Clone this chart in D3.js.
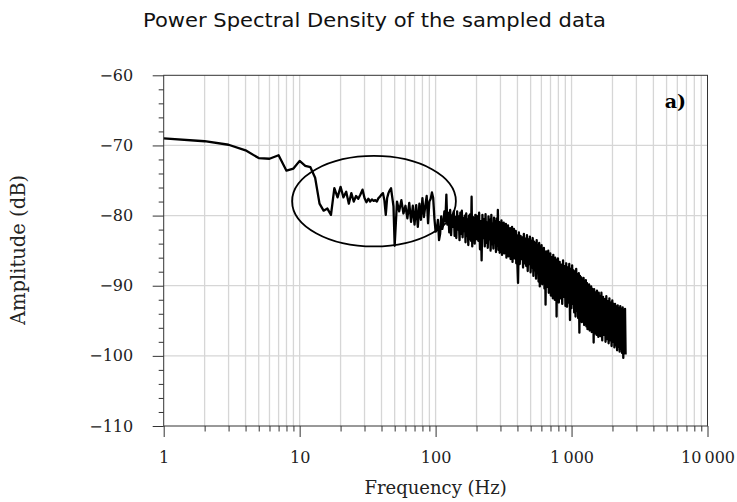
<!DOCTYPE html>
<html>
<head>
<meta charset="utf-8">
<script src="https://cdn.jsdelivr.net/npm/d3@7"></script>
<style>
  html, body { margin: 0; padding: 0; background: #fff; }
  svg { display: block; }
</style>
</head>
<body>
<svg id="chart" width="737" height="502"></svg>
<script>
// ---------------- DATA ----------------
// PSD bins: each block starts at a frequency (Hz) with a fixed bin step (Hz)
const blockStartHz = [1, 52, 102, 203, 404, 806, 1610];
const blockStepHz  = [1, 2, 2, 3, 6, 12, 24];

// Amplitude (dB), one array per block
const dbBlockA = [-69.0,-69.4,-69.9,-70.7,-71.8,-71.9,-71.4,-73.6,-73.3,-72.2,
  -72.9,-73.1,-74.6,-78.3,-79.3,-79.0,-79.9,-76.1,-77.4,-75.9,
  -77.4,-76.6,-78.3,-76.8,-78.0,-77.2,-77.6,-77.0,-76.3,-77.5,
  -78.1,-77.6,-78.0,-77.7,-77.9,-77.8,-78.0,-77.5,-77.3,-77.0,
  -76.8,-77.8,-79.9,-77.5,-76.8,-76.4,-76.1,-77.4,-78.7,-84.3];
const dbBlockB = [-78.0,-79.4,-77.8,-79.7,-78.6,-80.4,-78.2,-80.9,-78.6,-81.3,
  -78.5,-81.6,-78.3,-80.6,-77.5,-80.2,-78.6,-77.2,-81.1,-78.0,
  -77.6,-76.7,-77.5,-80.4,-82.3];
const dbBlockC = [-82.0,-80.6,-83.5,-82.6,-80.1,-81.9,-81.2,-79.4,-80.8,-77.0,
  -81.3,-79.6,-82.4,-79.2,-82.8,-80.0,-81.6,-79.4,-82.9,-80.2,
  -83.2,-79.4,-82.0,-80.1,-83.5,-79.6,-82.6,-79.3,-83.1,-80.4,
  -82.2,-80.0,-83.8,-79.7,-82.9,-80.6,-84.2,-80.0,-83.3,-79.8,
  -83.6,-77.3,-84.4,-80.2,-82.8,-80.4,-84.0,-79.9,-83.4,-80.0];
const dbBlockD = [-80.2,-83.6,-79.6,-84.8,-80.8,-86.4,-79.9,-83.2,-80.5,-84.4,
  -79.8,-83.9,-81.0,-84.6,-80.1,-83.4,-80.6,-85.0,-79.9,-84.1,
  -81.2,-84.7,-80.3,-83.8,-80.9,-85.2,-80.4,-84.3,-79.2,-84.9,
  -80.9,-85.3,-81.1,-84.2,-80.7,-85.6,-81.5,-84.6,-81.0,-85.4,
  -81.6,-84.8,-81.2,-86.0,-82.0,-85.1,-81.4,-85.8,-82.1,-85.0,
  -81.8,-86.2,-82.3,-85.4,-81.6,-86.6,-82.5,-85.3,-81.9,-86.1,
  -82.6,-85.7,-82.2,-86.8,-82.8,-86.0];
const dbBlockE = [-89.6,-82.4,-86.9,-82.9,-86.2,-83.1,-87.4,-82.6,-86.8,-83.3,
  -87.2,-82.8,-87.9,-83.4,-86.9,-83.0,-88.1,-83.6,-87.4,-83.2,
  -88.6,-83.7,-87.8,-84.0,-89.0,-83.5,-88.2,-84.3,-89.4,-83.9,
  -90.1,-84.5,-88.9,-84.2,-89.8,-85.0,-89.2,-84.6,-90.4,-85.2,
  -92.7,-85.1,-90.2,-85.6,-89.7,-85.0,-91.0,-85.8,-90.4,-85.4,
  -91.4,-85.9,-90.6,-86.2,-91.8,-85.6,-90.9,-86.4,-92.0,-86.0,
  -91.6,-86.3,-94.4,-86.6,-92.2,-86.1];
const dbBlockF = [-92.4,-86.6,-91.8,-87.0,-92.6,-86.4,-91.6,-87.2,-92.9,-86.8,
  -93.0,-87.4,-92.4,-86.9,-94.9,-87.6,-93.2,-87.1,-92.6,-87.8,
  -93.8,-88.0,-94.4,-87.6,-93.6,-88.4,-94.6,-88.2,-96.7,-88.6,
  -94.8,-88.8,-95.2,-89.4,-94.4,-88.9,-95.6,-89.6,-94.9,-89.2,
  -95.8,-89.6,-96.2,-90.0,-95.4,-89.8,-96.4,-90.3,-95.9,-90.1,
  -96.6,-90.4,-96.0,-90.8,-98.1,-90.5,-96.8,-90.9,-96.3,-91.0,
  -97.0,-90.7,-96.6,-91.2,-97.3,-91.0,-96.9];
const dbBlockG = [-91.4,-97.2,-91.0,-97.8,-91.6,-97.0,-91.9,-98.0,-91.5,-97.6,
  -92.2,-98.2,-91.8,-97.8,-92.4,-98.6,-92.1,-98.0,-92.6,-98.8,
  -92.6,-98.5,-93.0,-99.2,-92.8,-98.7,-93.3,-99.4,-92.9,-99.0,
  -93.4,-99.6,-93.1,-100.3,-93.6,-99.4,-93.3,-99.8];

const xTickValues = [1, 10, 100, 1000, 10000];
const xTickLabels = ["1", "10", "100", "1\u2009000", "10\u2009000"];
const yTickValues = [-110, -100, -90, -80, -70, -60];

// annotation ellipse (data bounds)
const ellipseFreqRange = [8.8, 141];
const ellipseDbRange = [-84.4, -71.5];

const titleText = "Power Spectral Density of the sampled data";
const xLabelText = "Frequency (Hz)";
const yLabelText = "Amplitude (dB)";
const panelTag = "a)";

// ---------------- BUILD ----------------
const dbBlocks = [dbBlockA, dbBlockB, dbBlockC, dbBlockD, dbBlockE, dbBlockF, dbBlockG];
const points = [];
dbBlocks.forEach((arr, b) => {
  arr.forEach((v, i) => points.push({f: blockStartHz[b] + i * blockStepHz[b], db: v}));
});

const svg = d3.select("#chart");
const L = 163.7, R = 707.5, T = 75.3, B = 426;

const x = d3.scaleLog().domain([1, 10000]).range([L, R]);
const y = d3.scaleLinear().domain([-110, -60]).range([B, T]);

const minorX = [];
for (let dec = 1; dec < 10000; dec *= 10) for (let k = 2; k <= 9; k++) minorX.push(dec * k);
const minorY = d3.range(-110, -59, 2).filter(v => !yTickValues.includes(v));

// grid
const grid = svg.append("g").attr("stroke", "#d6d6d6").attr("stroke-width", 1.3);
grid.selectAll("line.vx").data(minorX.concat(xTickValues.slice(1, -1))).join("line")
  .attr("x1", d => x(d)).attr("x2", d => x(d)).attr("y1", T).attr("y2", B);
grid.selectAll("line.hy").data(yTickValues.slice(1, -1)).join("line")
  .attr("class", "hy")
  .attr("x1", L).attr("x2", R).attr("y1", d => y(d)).attr("y2", d => y(d));

// data line
svg.append("path").datum(points)
  .attr("fill", "none").attr("stroke", "#000").attr("stroke-width", 2.3)
  .attr("stroke-linejoin", "round")
  .attr("d", d3.line().x(d => x(d.f)).y(d => y(d.db)));

// ellipse
const ex0 = x(ellipseFreqRange[0]), ex1 = x(ellipseFreqRange[1]);
const ey0 = y(ellipseDbRange[1]), ey1 = y(ellipseDbRange[0]);
svg.append("ellipse")
  .attr("cx", (ex0 + ex1) / 2).attr("cy", (ey0 + ey1) / 2)
  .attr("rx", (ex1 - ex0) / 2).attr("ry", (ey1 - ey0) / 2)
  .attr("fill", "none").attr("stroke", "#000").attr("stroke-width", 1.8);

// axes
const axisColor = "#333";
svg.append("g").attr("transform", `translate(0,${B})`)
  .call(d3.axisBottom(x).tickValues(xTickValues)
    .tickFormat((d, i) => xTickLabels[i]).tickSize(11).tickPadding(14.5));
svg.append("g").attr("transform", `translate(0,${B})`)
  .call(d3.axisBottom(x).tickValues(minorX).tickFormat("").tickSize(5.5));
svg.append("g").attr("transform", `translate(${L},0)`)
  .call(d3.axisLeft(y).tickValues(yTickValues).tickSize(11).tickPadding(19.5));
svg.append("g").attr("transform", `translate(${L},0)`)
  .call(d3.axisLeft(y).tickValues(minorY).tickFormat("").tickSize(5));

svg.selectAll(".domain").remove();
svg.selectAll(".tick line").attr("stroke", axisColor).attr("stroke-width", 1);
svg.selectAll(".tick text").attr("font-family", "DejaVu Serif").attr("font-size", 16).attr("fill", "#222");

// spines
svg.append("rect").attr("x", L).attr("y", T).attr("width", R - L).attr("height", B - T)
  .attr("fill", "none").attr("stroke", axisColor).attr("stroke-width", 1);

// texts
svg.append("text").attr("x", 374.5).attr("y", 27)
  .attr("text-anchor", "middle").attr("font-family", "DejaVu Sans").attr("font-size", 20)
  .attr("fill", "#111").attr("textLength", 463).attr("lengthAdjust", "spacingAndGlyphs")
  .text(titleText);

svg.append("text").attr("x", (L + R) / 2).attr("y", 494)
  .attr("text-anchor", "middle").attr("font-family", "DejaVu Serif").attr("font-size", 18)
  .attr("fill", "#222").text(xLabelText);

svg.append("text").attr("transform", `translate(25,250) rotate(-90)`)
  .attr("text-anchor", "middle").attr("font-family", "DejaVu Serif").attr("font-size", 19.5)
  .attr("fill", "#222").text(yLabelText);

svg.append("text").attr("x", 686).attr("y", 108)
  .attr("text-anchor", "end").attr("font-family", "DejaVu Serif").attr("font-weight", "bold")
  .attr("font-size", 19).attr("fill", "#000").text(panelTag);
</script>
</body>
</html>
